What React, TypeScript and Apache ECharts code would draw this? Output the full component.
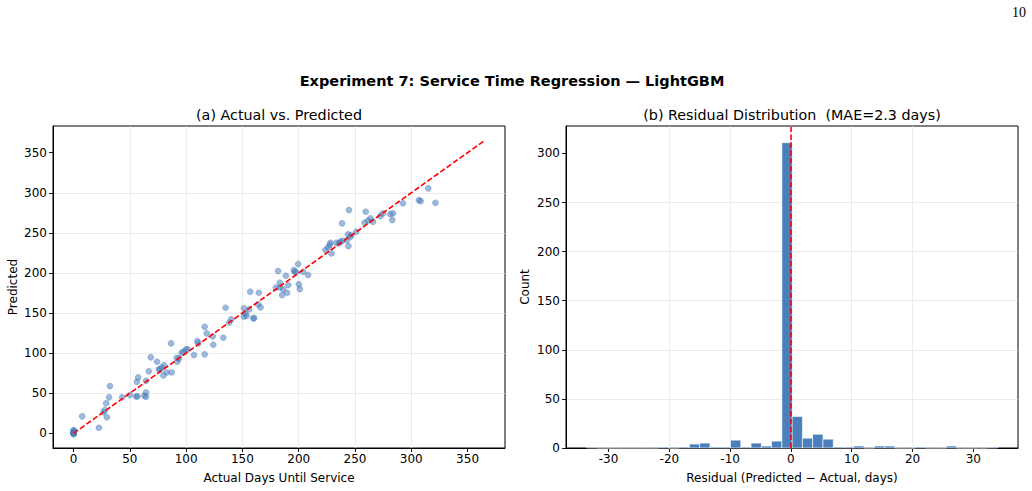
import React, { useEffect, useRef } from "react";
import * as echarts from "echarts";

// ---- data ----
const actualDays = [
  0, 0, 0, 0, 0, 0.5, 0, 0.3,
  7.7, 22.5, 26.6, 27.8, 29.6, 29.0, 31.6, 32.3, 43.2, 50.0, 55.6, 56.7, 56.2, 57.4, 62.7, 64.4, 64.4, 64.4,
  66.8, 68.6, 74.2, 75.7, 76.9, 78.6, 80.4, 82.8, 79.8, 86.6, 87.2, 92.2, 93.7, 91.7, 96.1, 97.5, 99.9, 101.4,
  107.0, 110.0, 110.8, 116.5, 116.5, 118.3, 123.6, 124.1, 133.0, 135.1, 138.3, 140.1, 151.3, 152.5, 151.3,
  153.7, 156.0, 159.6, 160.5, 164.0, 166.1, 156.9, 164.6, 179.7, 183.2, 183.2, 181.7, 186.2, 185.3, 189.7,
  190.6, 188.6, 195.7, 196.6, 199.5, 203.9, 208.3, 200.1, 201.0, 197.5, 223.8, 226.1, 228.2, 229.1, 227.6,
  233.5, 235.8, 237.1, 238.8, 238.5, 244.7, 243.8, 242.9, 245.9, 244.1, 246.7, 251.2, 259.5, 258.6, 261.5,
  263.7, 266.0, 272.5, 274.8, 281.4, 283.7, 283.1, 292.6, 306.7, 308.3, 315.0, 321.5,
];
const predictedDays = [
  0, 2, -1, 4, 1, 3, 0.5, -0.5,
  21.2, 7.0, 26.2, 29.0, 20.0, 37.4, 44.9, 59.0, 44.9, 47.8, 46.0, 46.0, 64.3, 69.8, 46.9, 51.0, 45.6, 65.6,
  77.3, 94.8, 89.3, 79.8, 79.8, 82.3, 84.8, 76.0, 72.3, 112.2, 76.0, 89.3, 93.5, 94.3, 100.5, 101.7, 104.7, 104.7,
  97.6, 115.0, 112.2, 98.5, 132.9, 124.7, 121.0, 110.5, 119.2, 156.6, 137.9, 142.1, 155.9, 149.6, 145.4,
  146.6, 154.6, 143.4, 143.8, 160.8, 157.1, 176.6, 175.3, 181.6, 187.8, 182.0, 202.4, 179.5, 172.4, 175.3,
  184.9, 196.5, 203.6, 201.5, 211.1, 201.5, 197.4, 185.8, 179.9, 200.7, 228.5, 231.9, 237.6, 224.4, 234.8,
  237.6, 236.9, 238.9, 240.2, 261.8, 278.4, 248.1, 241.0, 245.1, 233.5, 247.3, 251.4, 276.3, 262.6, 265.1,
  268.1, 263.8, 270.9, 274.3, 273.4, 274.3, 266.0, 286.8, 290.9, 289.6, 305.5, 287.5,
];
const identityRange = [0, 365];

const residualBinStart = -33.6;
const residualBinWidth = 1.69;
const residualCounts = [
  1, 0, 0, 0, 0, 0, 0, 1, 0, 1, 4, 5, 1, 1, 8, 1, 5, 2, 7, 311,
  32, 10, 14, 9, 1, 1, 2, 0, 2, 2, 0, 0, 1, 0, 0, 2, 0, 0, 0, 1,
];

const daysTicks = [0, 50, 100, 150, 200, 250, 300, 350];
const residualTicks = [-30, -20, -10, 0, 10, 20, 30];
const countTicks = [0, 50, 100, 150, 200, 250, 300];

const FONT = "DejaVu Sans";

function axis(opts: any) {
  const { gridIndex, min, max, step, ticks, name, nameGap, isY } = opts;
  return {
    type: "value",
    gridIndex,
    min,
    max,
    minInterval: step,
    maxInterval: step,
    splitNumber: 8,
    name,
    nameLocation: "middle",
    nameGap,
    nameTextStyle: { color: "#000", fontSize: 12, fontFamily: FONT },
    axisLine: { show: true, onZero: false, lineStyle: { color: "#000", width: 1 } },
    axisTick: {
      show: true,
      inside: false,
      length: 4,
      customValues: ticks,
      lineStyle: { color: "#000", width: 0.9 },
    },
    axisLabel: {
      customValues: ticks,
      color: "#000",
      fontSize: 12,
      fontFamily: FONT,
      margin: isY ? 6 : 5,
    },
    splitLine: {
      show: true,
      showMinLine: false,
      showMaxLine: false,
      lineStyle: { color: "#e6e6e6", width: 0.8 },
    },
  };
}

export default function App() {
  const ref = useRef<HTMLDivElement>(null);
  useEffect(() => {
    if (!ref.current) return;
    const chart = echarts.init(ref.current, null, { renderer: "svg" });
    const scatterData = actualDays.map((a, i) => [a, predictedDays[i]]);
    const histData = residualCounts.map((c, i) => [
      residualBinStart + i * residualBinWidth,
      residualBinStart + (i + 1) * residualBinWidth,
      c,
    ]);
    const option: any = {
      animation: false,
      backgroundColor: "#fff",
      grid: [
        { left: 53, right: 1032 - 505, top: 126, bottom: 491 - 448, show: true, borderColor: "#000", borderWidth: 1, backgroundColor: "transparent" },
        { left: 566, right: 1032 - 1018, top: 126, bottom: 491 - 448, show: true, borderColor: "#000", borderWidth: 1, backgroundColor: "transparent" },
      ],
      xAxis: [
        axis({ gridIndex: 0, min: -18.25, max: 383.25, step: 50, ticks: daysTicks, name: "Actual Days Until Service", nameGap: 24 }),
        axis({ gridIndex: 1, min: -37, max: 37.35, step: 10, ticks: residualTicks, name: "Residual (Predicted \u2212 Actual, days)", nameGap: 24 }),
      ],
      yAxis: [
        axis({ gridIndex: 0, min: -18.25, max: 383.25, step: 50, ticks: daysTicks, name: "Predicted", nameGap: 34, isY: true }),
        axis({ gridIndex: 1, min: 0, max: 328, step: 50, ticks: countTicks, name: "Count", nameGap: 35, isY: true }),
      ],
      graphic: [
        { type: "text", x: 1026, y: 12, style: { text: "10", fill: "#000", fontSize: 14, fontFamily: "Liberation Serif", align: "right", verticalAlign: "middle" } },
        { type: "text", x: 512, y: 81, style: { text: "Experiment 7: Service Time Regression \u2014 LightGBM", fill: "#000", fontSize: 14.5, fontWeight: "bold", fontFamily: FONT, align: "center", verticalAlign: "middle" } },
        { type: "text", x: 279, y: 115, style: { text: "(a) Actual vs. Predicted", fill: "#000", fontSize: 14.3, fontFamily: FONT, align: "center", verticalAlign: "middle" } },
        { type: "text", x: 792, y: 115, style: { text: "(b) Residual Distribution  (MAE=2.3 days)", fill: "#000", fontSize: 14.3, fontFamily: FONT, align: "center", verticalAlign: "middle" } },
      ],
      series: [
        {
          type: "scatter",
          xAxisIndex: 0,
          yAxisIndex: 0,
          data: scatterData,
          symbol: "circle",
          symbolSize: 6,
          itemStyle: { color: "#4a7fbd", opacity: 0.55, borderColor: "#2f67a8", borderWidth: 0.5 },
          z: 2,
        },
        {
          type: "line",
          xAxisIndex: 0,
          yAxisIndex: 0,
          data: [
            [identityRange[0], identityRange[0]],
            [identityRange[1], identityRange[1]],
          ],
          showSymbol: false,
          symbol: "none",
          lineStyle: { color: "#ff0000", width: 1.6, type: [5.5, 2.4] },
          z: 3,
        },
        {
          type: "custom",
          xAxisIndex: 1,
          yAxisIndex: 1,
          data: histData,
          encode: { x: [0, 1], y: 2 },
          renderItem: (params: any, api: any) => {
            const x0 = api.value(0);
            const x1 = api.value(1);
            const c = api.value(2);
            const p0 = api.coord([x0, c]);
            const p1 = api.coord([x1, 0]);
            return {
              type: "rect",
              shape: { x: p0[0], y: p0[1], width: p1[0] - p0[0], height: p1[1] - p0[1] },
              style: { fill: "#4a7fbb", stroke: "#ffffff", lineWidth: 0.6 },
            };
          },
          markLine: {
            silent: true,
            symbol: "none",
            label: { show: false },
            lineStyle: { color: "#ff0000", width: 1.6, type: [5.5, 2.4] },
            data: [{ xAxis: 0 }],
          },
          z: 2,
        },
      ],
    };
    chart.setOption(option);
    return () => chart.dispose();
  }, []);
  return <div ref={ref} style={{ position: "absolute", left: 0, top: 0, width: 1032, height: 491 }} />;
}
